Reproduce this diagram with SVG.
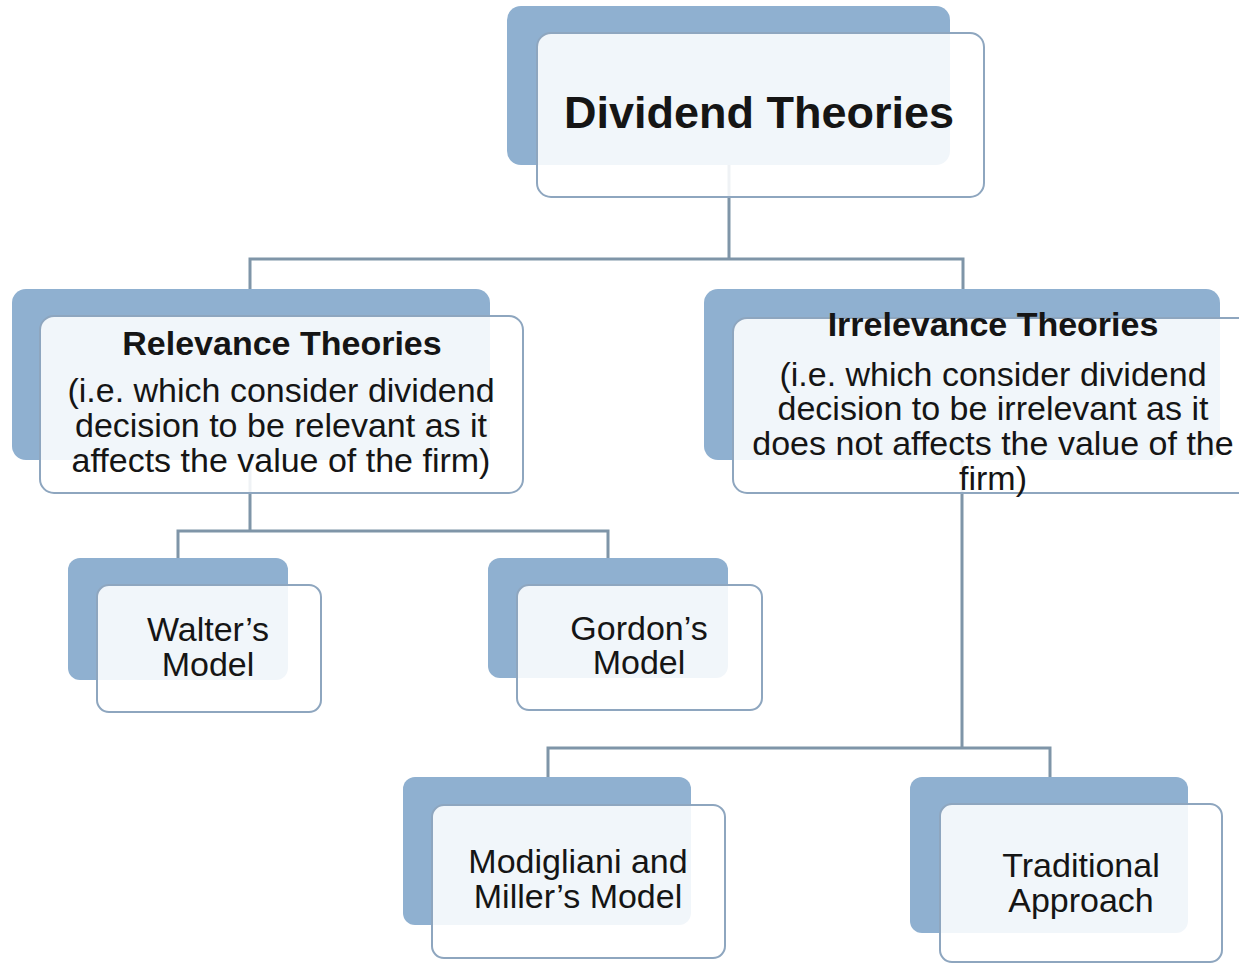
<svg xmlns="http://www.w3.org/2000/svg" width="1239" height="964" viewBox="0 0 1239 964">
<style>
.back{fill:#8fb0d0;}
.front{fill:#ffffff;fill-opacity:0.88;stroke:#8ea6bf;stroke-width:2;}
.conn{fill:none;stroke:#7f95a8;stroke-width:3;}
text{font-family:"Liberation Sans",Arial,sans-serif;fill:#151515;text-anchor:middle;}
.t{font-weight:bold;font-size:34px;}
.b{font-size:34px;}
</style>
<rect width="1239" height="964" fill="#ffffff"/>
<g id="connectors">
<path class="conn" d="M729,165 V259 M250,289 V259 H963 V289"/>
<path class="conn" d="M250,460 V531 M178,558 V531 H608 V558"/>
<path class="conn" d="M962,460 V748 M548,777 V748 H1050 V777"/>
</g>
<g id="dividend-theories">
<rect class="back" x="507" y="6" width="443" height="159" rx="14"/>
<rect class="front" x="537" y="33" width="447" height="164" rx="14"/>
<text x="759" y="128" style="font-weight:bold;font-size:45px">Dividend Theories</text>
</g>
<g id="relevance-theories">
<rect class="back" x="12" y="289" width="478" height="171" rx="14"/>
<rect class="front" x="40" y="316" width="483" height="177" rx="14"/>
<text class="t" x="282" y="355">Relevance Theories</text>
<text class="b" x="281" y="402">(i.e. which consider dividend</text>
<text class="b" x="281" y="437">decision to be relevant as it</text>
<text class="b" x="281" y="472">affects the value of the firm)</text>
</g>
<g id="irrelevance-theories">
<rect class="back" x="704" y="289" width="516" height="171" rx="14"/>
<rect class="front" x="733" y="318" width="520" height="175" rx="14"/>
<text class="t" x="993" y="336">Irrelevance Theories</text>
<text class="b" x="993" y="386">(i.e. which consider dividend</text>
<text class="b" x="993" y="420">decision to be irrelevant as it</text>
<text class="b" x="993" y="455">does not affects the value of the</text>
<text class="b" x="993" y="490">firm)</text>
</g>
<g id="walters-model">
<rect class="back" x="68" y="558" width="220" height="122" rx="12"/>
<rect class="front" x="97" y="585" width="224" height="127" rx="12"/>
<text class="b" x="208" y="641">Walter’s</text>
<text class="b" x="208" y="676">Model</text>
</g>
<g id="gordons-model">
<rect class="back" x="488" y="558" width="240" height="120" rx="12"/>
<rect class="front" x="517" y="585" width="245" height="125" rx="12"/>
<text class="b" x="639" y="640">Gordon’s</text>
<text class="b" x="639" y="674">Model</text>
</g>
<g id="modigliani-miller">
<rect class="back" x="403" y="777" width="288" height="148" rx="12"/>
<rect class="front" x="432" y="805" width="293" height="153" rx="12"/>
<text class="b" x="578" y="873">Modigliani and</text>
<text class="b" x="578" y="908">Miller’s Model</text>
</g>
<g id="traditional-approach">
<rect class="back" x="910" y="777" width="278" height="156" rx="12"/>
<rect class="front" x="940" y="804" width="282" height="158" rx="12"/>
<text class="b" x="1081" y="877">Traditional</text>
<text class="b" x="1081" y="912">Approach</text>
</g>
</svg>
